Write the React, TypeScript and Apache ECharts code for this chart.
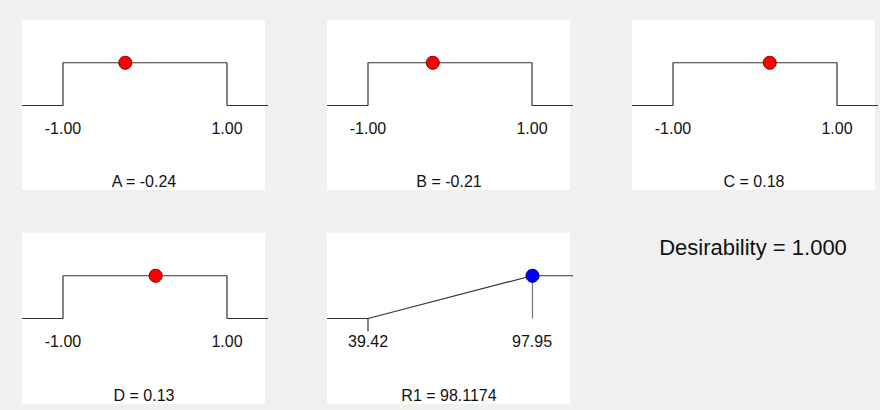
import React, { useEffect, useRef } from "react";
import * as echarts from "echarts";

// ---- data ----
const factorNames = ["A", "B", "C", "D"];
const factorValues = [-0.24, -0.21, 0.18, 0.13];
const factorLow = [-1, -1, -1, -1];
const factorHigh = [1, 1, 1, 1];
const factorDesirability = [1, 1, 1, 1];

const responseName = "R1";
const responseValue = 98.1174;
const responseLow = 39.42;
const responseHigh = 97.95;
const responseDesirability = 1;

const overallDesirability = 1.0;

// ---- layout ----
const panels = [
  { left: 22, top: 20, height: 170 },
  { left: 327, top: 20, height: 170 },
  { left: 632, top: 20, height: 170 },
  { left: 22, top: 233, height: 171 },
  { left: 327, top: 233, height: 171 },
];
const PANEL_W = 244;
const PLOT_W = 246;
const PLOT_H = 85.5;
const FONT = "Arial, 'Liberation Sans', sans-serif";

export default function App() {
  const ref = useRef<HTMLDivElement>(null);

  useEffect(() => {
    if (!ref.current) return;
    const chart = echarts.init(ref.current, null, { renderer: "svg" });

    const grid: any[] = [];
    const xAxis: any[] = [];
    const yAxis: any[] = [];
    const series: any[] = [];
    const graphics: any[] = [];

    const addText = (text: string, x: number, y: number, size: number) => {
      graphics.push({
        type: "text",
        z: 10,
        x,
        y,
        style: {
          text,
          fontSize: size,
          fontFamily: FONT,
          fill: "#111",
          align: "center",
          verticalAlign: "middle",
          textAlign: "center",
          textVerticalAlign: "middle",
        },
      });
    };

    const addPanel = (i: number, low: number, high: number, name: string, valueText: string) => {
      const p = panels[i];
      const pad = (high - low) * 0.25;
      grid.push({
        left: p.left,
        top: p.top,
        width: PLOT_W,
        height: PLOT_H,
        containLabel: false,
        outerBoundsMode: "none",
      });
      graphics.push({
        type: "rect",
        z: 0,
        shape: { x: p.left, y: p.top, width: PANEL_W - 1, height: p.height },
        style: { fill: "#ffffff" },
      });
      xAxis.push({
        type: "value",
        gridIndex: i,
        min: low - pad,
        max: high + pad,
        axisLine: { show: false },
        axisTick: { show: false },
        splitLine: { show: false },
        axisLabel: {
          customValues: [low, high],
          formatter: (v: number) => v.toFixed(2),
          margin: 15,
          fontSize: 16,
          color: "#111",
          fontFamily: FONT,
        },
      });
      yAxis.push({ type: "value", gridIndex: i, min: 0, max: 2, show: false });
      addText(`${name} = ${valueText}`, p.left + PANEL_W / 2, p.top + p.height - 8.5, 16);
      return { xmin: low - pad, xmax: high + pad };
    };

    factorNames.forEach((name, k) => {
      const i = k;
      const low = factorLow[k];
      const high = factorHigh[k];
      const { xmin, xmax } = addPanel(i, low, high, name, factorValues[k].toFixed(2));
      series.push({
        type: "line",
        xAxisIndex: i,
        yAxisIndex: i,
        symbol: "none",
        silent: true,
        clip: false,
        lineStyle: { color: "#333", width: 1.2 },
        data: [
          [xmin, 0],
          [low, 0],
          [low, 1],
          [high, 1],
          [high, 0],
          [xmax, 0],
        ],
      });
      series.push({
        type: "scatter",
        xAxisIndex: i,
        yAxisIndex: i,
        symbolSize: 13,
        clip: false,
        itemStyle: { color: "#ff0000", borderColor: "#7a0000", borderWidth: 1, opacity: 1 },
        data: [[factorValues[k], factorDesirability[k]]],
        z: 5,
      });
    });

    // response panel
    {
      const i = 4;
      const { xmin, xmax } = addPanel(i, responseLow, responseHigh, responseName, responseValue.toFixed(4));
      series.push({
        type: "line",
        xAxisIndex: i,
        yAxisIndex: i,
        symbol: "none",
        silent: true,
        clip: false,
        lineStyle: { color: "#333", width: 1.2 },
        data: [
          [xmin, 0],
          [responseLow, 0],
          [responseHigh, 1],
          [xmax, 1],
        ],
      });
      series.push({
        type: "line",
        xAxisIndex: i,
        yAxisIndex: i,
        symbol: "none",
        silent: true,
        clip: false,
        lineStyle: { color: "#333", width: 1.2 },
        data: [
          [responseLow, 0],
          [responseLow, -0.3],
        ],
      });
      series.push({
        type: "line",
        xAxisIndex: i,
        yAxisIndex: i,
        symbol: "none",
        silent: true,
        clip: false,
        lineStyle: { color: "#777", width: 1.2 },
        data: [
          [responseValue, responseDesirability],
          [responseValue, 0],
        ],
      });
      series.push({
        type: "scatter",
        xAxisIndex: i,
        yAxisIndex: i,
        symbolSize: 13,
        clip: false,
        itemStyle: { color: "#0000ff", borderColor: "#00007a", borderWidth: 1, opacity: 1 },
        data: [[responseValue, responseDesirability]],
        z: 5,
      });
    }

    addText(`Desirability = ${overallDesirability.toFixed(3)}`, 753, 247, 22);

    chart.setOption({
      animation: false,
      backgroundColor: "#f0f0f0",
      grid,
      xAxis,
      yAxis,
      series,
      graphic: { elements: graphics },
    });

    return () => chart.dispose();
  }, []);

  return (
    <div
      ref={ref}
      style={{ position: "fixed", left: 0, top: 0, width: 880, height: 410 }}
    />
  );
}
